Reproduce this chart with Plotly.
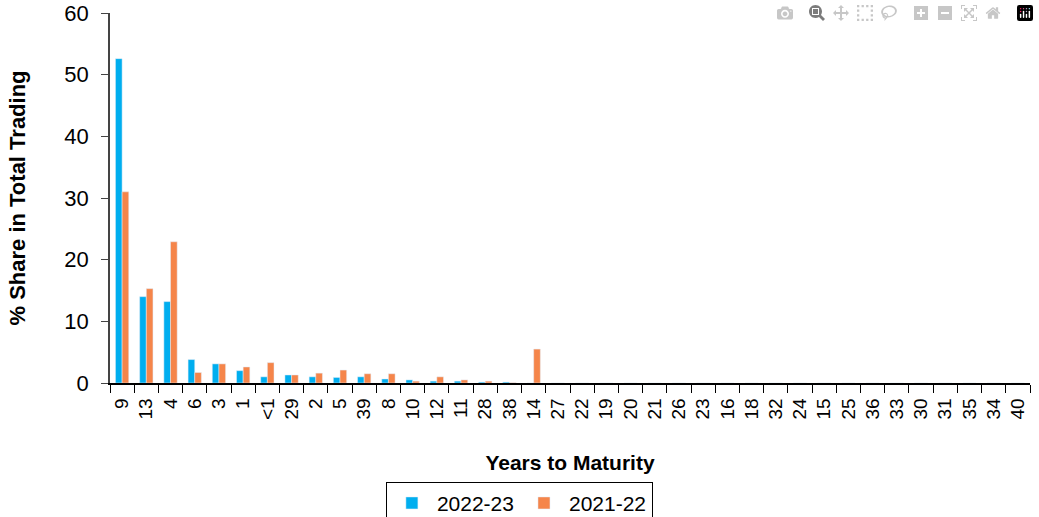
import plotly.graph_objects as go

categories = ["9", "13", "4", "6", "3", "1", "<1", "29", "2", "5", "39", "8", "10", "12",
              "11", "28", "38", "14", "27", "22", "19", "20", "21", "26", "23", "16", "18",
              "32", "24", "15", "25", "36", "33", "30", "31", "35", "34", "40"]

share_2022_23 = [52.6, 14.0, 13.2, 3.8, 3.1, 2.0, 1.0, 1.3, 1.0, 0.9, 1.0, 0.65, 0.5, 0.3,
                 0.3, 0.15, 0.15, 0, 0, 0, 0, 0, 0, 0, 0, 0, 0,
                 0, 0, 0, 0, 0, 0, 0, 0, 0, 0, 0]
share_2021_22 = [31.0, 15.3, 22.9, 1.7, 3.1, 2.6, 3.3, 1.3, 1.6, 2.1, 1.5, 1.5, 0.3, 1.0,
                 0.5, 0.3, 0.05, 5.5, 0, 0, 0, 0, 0, 0, 0, 0, 0,
                 0, 0, 0, 0, 0, 0, 0, 0, 0, 0, 0]

font = {"family": "Liberation Sans, Arial, sans-serif", "size": 19, "color": "black"}

fig = go.Figure()
fig.add_trace(go.Bar(x=categories, y=share_2022_23, name="2022-23", marker_color="#00AEEF"))
fig.add_trace(go.Bar(x=categories, y=share_2021_22, name="2021-22", marker_color="#F5854A"))

fig.update_layout(
    width=1039,
    height=517,
    margin={"l": 110, "r": 9, "t": 13, "b": 134, "autoexpand": False},
    font=font,
    barmode="group",
    bargap=0.45,
    bargroupgap=0,
    paper_bgcolor="white",
    plot_bgcolor="white",
    legend={"orientation": "h", "x": 0.445, "xanchor": "center",
            "y": -0.267, "yanchor": "top",
            "bordercolor": "black", "borderwidth": 1, "font": {"size": 21},
            "itemwidth": 40, "traceorder": "normal"},
    xaxis={
        "type": "category",
        "automargin": False,
        "tickangle": -90,
        "tickson": "boundaries",
        "ticks": "outside",
        "ticklen": 8,
        "tickcolor": "black",
        "ticklabelstandoff": 6,
        "showline": True,
        "linecolor": "black",
        "linewidth": 1.5,
        "showgrid": False,
        "tickfont": {"size": 19},
        "title": {"text": "<b>Years to Maturity</b>", "font": {"size": 21}, "standoff": 36},
    },
    yaxis={
        "range": [0, 60],
        "dtick": 10,
        "automargin": False,
        "ticks": "outside",
        "ticklen": 7,
        "tickcolor": "#444",
        "ticklabelstandoff": 8,
        "showline": True,
        "linecolor": "#444",
        "linewidth": 1.5,
        "showgrid": False,
        "zeroline": False,
        "tickfont": {"size": 22},
        "title": {"text": "<b>% Share in Total Trading</b>", "font": {"size": 22}, "standoff": 33},
    },
)

# drop the default 8px body margin so the figure sits at the page corner
fig.write_html("out.html", post_script="document.body.style.margin='0';")
